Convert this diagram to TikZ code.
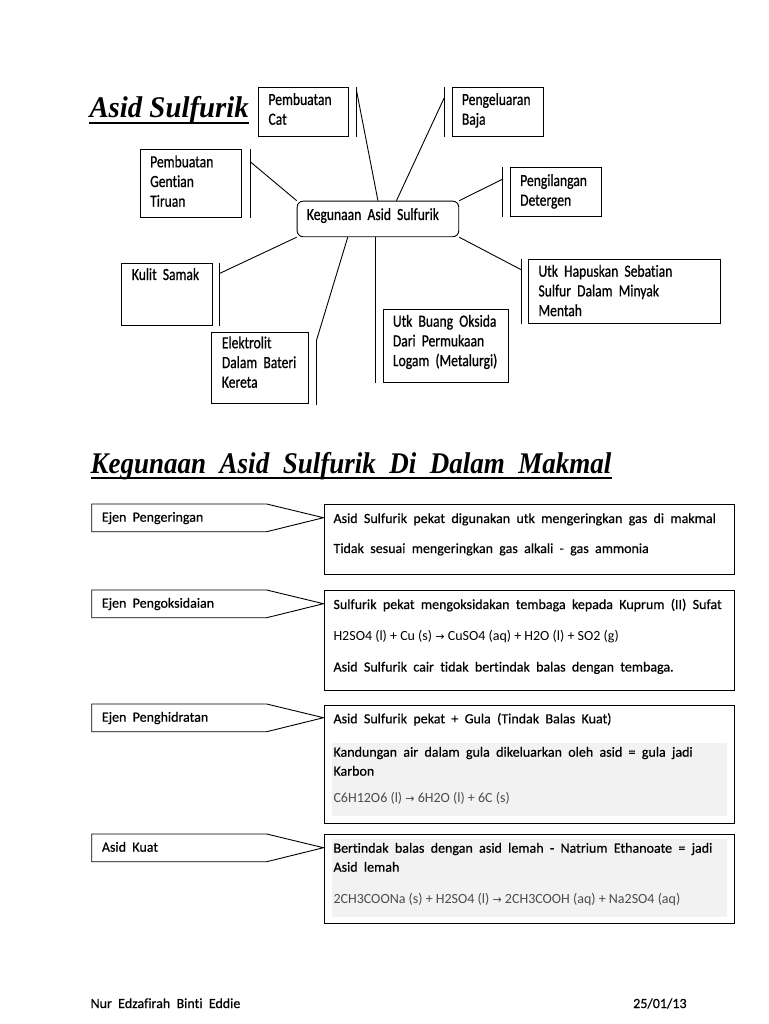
\documentclass[tikz,border=0pt]{standalone}
\usepackage{fontspec}
\setmainfont{Carlito}[WordSpace=2,FakeBold=0.5,Ligatures=NoCommon]
\newfontfamily\petafont{Carlito}[FakeStretch=0.8,WordSpace=2,FakeBold=0.7,Ligatures=NoCommon]
\newfontfamily\rumusfont{Carlito}[Ligatures=NoCommon]
\newfontfamily\panahfont{DejaVu Sans}
\newfontfamily\tajukfont{Liberation Serif}[FakeStretch=0.96]
\newfontfamily\tajukduafont{Liberation Serif}[FakeStretch=0.9,WordSpace=2]
\usetikzlibrary{positioning}
\newcommand{\panah}{{\panahfont\fontsize{11}{11}\selectfont →}}
\newcommand{\baris}[1]{\begin{tabular}[t]{@{}l@{}}#1\end{tabular}}

\begin{document}
\begin{tikzpicture}[x=1pt,y=-1pt,
  kotak/.style={draw,line width=0.9pt,anchor=north west,inner sep=0pt},
  pusatbox/.style={kotak,rounded corners=6pt},
  garis/.style={line width=0.9pt},
  tulis/.style={anchor=base west,inner sep=0pt,font=\petafont\fontsize{17}{19.7}\selectfont},
  isi/.style={anchor=base west,inner sep=0pt,font=\fontsize{14}{19}\selectfont},
  penunjuk/.style={draw,line width=0.9pt},
  latar/.style={fill=black!5},
  tajuk/.style={anchor=base west,inner sep=0pt,font=\tajukfont\bfseries\itshape\fontsize{30}{30}\selectfont}]
  \useasboundingbox (0,0) rectangle (768,1024);
  % tajuk atas
  \node[tajuk] (tajuk) at (89.3,118) {Asid Sulfurik};
  \draw[line width=1.8pt] ([yshift=-5pt]tajuk.base west) -- ([yshift=-5pt]tajuk.base east);
  % peta minda
  \node[pusatbox,minimum width=161.6,minimum height=35.6] (pusat) at (296.7,200.7) {};
  \node[tulis] (pusat-t) at ([xshift=10pt,yshift=-19.3pt]pusat.north west) {Kegunaan Asid Sulfurik};
  \node[kotak,minimum width=90,minimum height=48.4] (cat) at (257.7,87.3) {};
  \node[tulis] (cat-t) at ([xshift=10.6pt,yshift=-17.7pt]cat.north west) {\baris{Pembuatan\\Cat}};
  \node[kotak,minimum width=91,minimum height=48.7] (baja) at (451.7,87) {};
  \node[tulis] (baja-t) at ([xshift=10pt,yshift=-18pt]baja.north west) {\baris{Pengeluaran\\Baja}};
  \node[kotak,minimum width=101.3,minimum height=67.4] (gentian) at (140,149.3) {};
  \node[tulis] (gentian-t) at ([xshift=10pt,yshift=-18pt]gentian.north west) {\baris{Pembuatan\\Gentian\\Tiruan}};
  \node[kotak,minimum width=90.7,minimum height=48.7] (detergen) at (510,167.3) {};
  \node[tulis] (detergen-t) at ([xshift=10pt,yshift=-18.7pt]detergen.north west) {\baris{Pengilangan\\Detergen}};
  \node[kotak,minimum width=191.7,minimum height=64.3] (minyak) at (528.3,259) {};
  \node[tulis] (minyak-t) at ([xshift=10pt,yshift=-17.7pt]minyak.north west) {\baris{Utk Hapuskan Sebatian\\Sulfur Dalam Minyak\\Mentah}};
  \node[kotak,minimum width=125.6,minimum height=73] (logam) at (382.7,309.3) {};
  \node[tulis] (logam-t) at ([xshift=10pt,yshift=-17.4pt]logam.north west) {\baris{Utk Buang Oksida\\Dari Permukaan\\Logam (Metalurgi)}};
  \node[kotak,minimum width=91,minimum height=61.7] (samak) at (120.7,263.3) {};
  \node[tulis] (samak-t) at ([xshift=11pt,yshift=-16.7pt]samak.north west) {Kulit Samak};
  \node[kotak,minimum width=96.7,minimum height=71.6] (bateri) at (211,331.7) {};
  \node[tulis] (bateri-t) at ([xshift=10.7pt,yshift=-16.6pt]bateri.north west) {\baris{Elektrolit\\Dalam Bateri\\Kereta}};
  % bar penanda dan garis
  \coordinate (cat-a) at ([xshift=8pt]cat.north east);
  \coordinate (baja-a) at ([xshift=-7.7pt]baja.north west);
  \coordinate (gentian-a) at ([xshift=8pt]gentian.north east);
  \coordinate (detergen-a) at ([xshift=-7.7pt]detergen.north west);
  \coordinate (minyak-a) at ([xshift=-6.6pt]minyak.north west);
  \coordinate (logam-a) at ([xshift=-7pt]logam.north west);
  \coordinate (samak-a) at ([xshift=7.3pt]samak.north east);
  \coordinate (bateri-a) at ([xshift=8pt,yshift=-8.3pt]bateri.north east);
  \draw[garis] (cat-a) -- (cat-a |- cat.south);
  \draw[garis] (baja-a) -- (baja-a |- baja.south);
  \draw[garis] (gentian-a) -- (gentian-a |- gentian.south);
  \draw[garis] (detergen-a) -- (detergen-a |- detergen.south);
  \draw[garis] (minyak-a) -- (minyak-a |- minyak.south);
  \draw[garis] (logam-a |- pusat.south) -- (logam-a |- logam.south);
  \draw[garis] (samak-a) -- (samak-a |- samak.south);
  \draw[garis] (bateri-a) -- ([yshift=-0.7pt]bateri-a |- bateri.south);
  \draw[garis] ([yshift=-3.7pt]cat-a) -- (pusat.north);
  \draw[garis] ([yshift=-11.3pt]baja-a) -- ([xshift=18.5pt]pusat.north);
  \draw[garis] ([yshift=-12.4pt]gentian-a) -- (pusat.north west);
  \draw[garis] ([yshift=-12pt]detergen-a) -- (pusat.north east);
  \draw[garis] ([yshift=-11pt]minyak-a) -- (pusat.south east);
  \draw[garis] ([yshift=-10pt]samak-a) -- (pusat.south west);
  \draw[garis] (bateri-a) -- ([xshift=-30.2pt]pusat.south);
  % tajuk kedua
  \node[tajuk,font=\tajukduafont\bfseries\itshape\fontsize{30}{30}\selectfont] (tajukdua) at (90.5,473.3) {Kegunaan Asid Sulfurik Di Dalam Makmal};
  \draw[line width=1.8pt] ([yshift=-4.5pt]tajukdua.base west) -- ([yshift=-4.5pt]tajukdua.base east);
  % penunjuk kiri
  \foreach \y/\teks in {504/Ejen Pengeringan,590/Ejen Pengoksidaian,704/Ejen Penghidratan,834/Asid Kuat}{
    \draw[penunjuk] (91.7,\y) -- (266.7,\y) -- (323.5,\y+13.7) -- (266.7,\y+27.7) -- (91.7,\y+27.7) -- cycle;
    \node[isi] (jenis-\y) at (101.7,\y+17.7) {\teks};
  }
  % kotak keterangan
  \fill[latar] (331.7,742.7) rectangle (726.7,816);
  \fill[latar] (331.7,839.3) rectangle (726.7,916.7);
  \node[kotak,minimum width=410,minimum height=70.3] (guna1) at (324,504) {};
  \node[isi] (guna1-t) at ([xshift=9.3pt,yshift=-19pt]guna1.north west) {\baris{Asid Sulfurik pekat digunakan utk mengeringkan gas di makmal\\[11pt]Tidak sesuai mengeringkan gas alkali - gas ammonia}};
  \node[kotak,minimum width=410,minimum height=100] (guna2) at (324,590) {};
  \node[isi] (guna2-t) at ([xshift=9.3pt,yshift=-19pt]guna2.north west) {\baris{Sulfurik pekat mengoksidakan tembaga kepada Kuprum (II) Sufat\\[12pt]{\rumusfont H2SO4 (l) + Cu (s) \panah{} CuSO4 (aq) + H2O (l) + SO2 (g)}\\[12.5pt]Asid Sulfurik cair tidak bertindak balas dengan tembaga.}};
  \node[kotak,minimum width=410,minimum height=117.7] (guna3) at (324,705) {};
  \node[isi] (guna3-t) at ([xshift=9.3pt,yshift=-18.3pt]guna3.north west) {\baris{Asid Sulfurik pekat + Gula (Tindak Balas Kuat)\\[14.4pt]Kandungan air dalam gula dikeluarkan oleh asid = gula jadi\\Karbon\\[7.7pt]{\rumusfont\color{black!70}C6H12O6 (l) \panah{} 6H2O (l) + 6C (s)}}};
  \node[kotak,minimum width=410,minimum height=88.4] (guna4) at (324,834.3) {};
  \node[isi] (guna4-t) at ([xshift=9.3pt,yshift=-18.4pt]guna4.north west) {\baris{Bertindak balas dengan asid lemah - Natrium Ethanoate = jadi\\Asid lemah\\[12.6pt]{\rumusfont\color{black!70}2CH3COONa (s) + H2SO4 (l) \panah{} 2CH3COOH (aq) + Na2SO4 (aq)}}};
  % kaki halaman
  \node[isi] (nama) at (90.4,1008) {Nur Edzafirah Binti Eddie};
  \node[isi] (tarikh) at (633,1008) {25/01/13};
\end{tikzpicture}
\end{document}
